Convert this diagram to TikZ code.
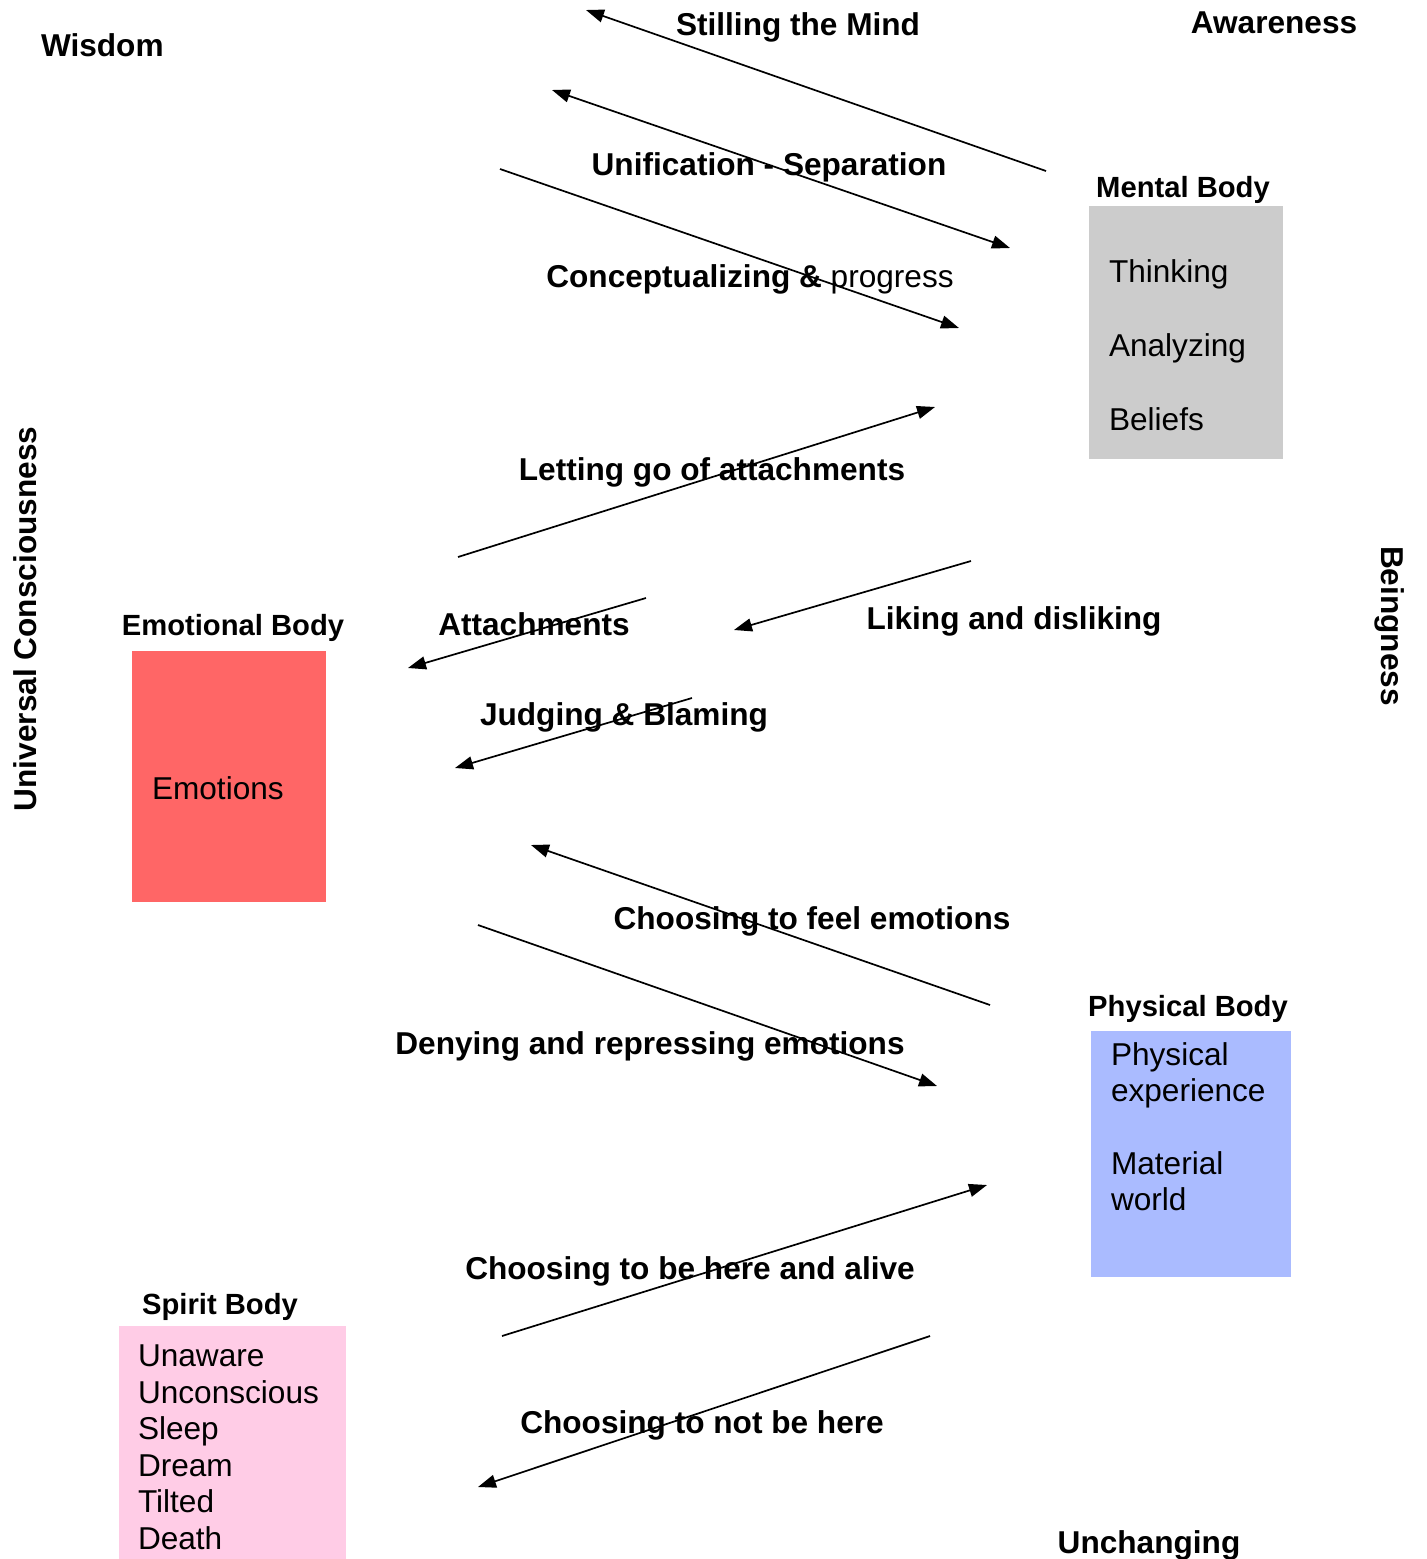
\documentclass[tikz,border=0pt]{standalone}
\usepackage{fontspec}
\setmainfont{Liberation Sans}
\usetikzlibrary{arrows.meta}

\definecolor{mentalgray}{HTML}{CCCCCC}
\definecolor{emotionred}{HTML}{FF6666}
\definecolor{physblue}{HTML}{AABBFF}
\definecolor{spiritpink}{HTML}{FFCCE6}

\begin{document}
\begin{tikzpicture}[
      x=0.5pt, y=-0.5pt,
      every node/.style={inner sep=0pt, outer sep=0pt},
      lbl/.style={font=\fontsize{15.8}{19}\selectfont\bfseries, anchor=base},
      title/.style={font=\fontsize{14.6}{17}\selectfont\bfseries, anchor=base},
      item/.style={font=\fontsize{15.8}{19}\selectfont, anchor=base west},
      body/.style={draw=none, anchor=north west},
      arrow/.style={-{Triangle[length=9pt,width=6.5pt]}, line width=0.85pt},
      twoway/.style={{Triangle[length=9pt,width=6.5pt]}-{Triangle[length=9pt,width=6.5pt]}, line width=0.85pt},
    ]
    \useasboundingbox (0,0) rectangle (1426,1559);

    % Corner and side words
    \node[lbl, anchor=base west] (wisdom) at (41,56) {Wisdom};
    \node[lbl] (aware) at (1274,33) {Awareness};
    \node[lbl] (unchanging) at (1149,1553) {Unchanging};
    \node[lbl, rotate=90] (univ) at (36,619) {Universal Consciousness};
    \node[lbl, rotate=-90] (being) at (1381,626) {Beingness};

    % Mental body
    \node[body, fill=mentalgray, minimum width=97pt, minimum height=126.5pt] (mental) at (1089,206) {};
    \node[title] (mentalT) at (1183,197) {Mental Body};
    \node[item] (think) at (1109,282) {Thinking};
    \node[item] (analyz) at (1109,356) {Analyzing};
    \node[item] (belief) at (1109,430) {Beliefs};

    % Emotional body
    \node[body, fill=emotionred, minimum width=97pt, minimum height=125.5pt] (emo) at (132,651) {};
    \node[title] (emoT) at (233,635) {Emotional Body};
    \node[item] (emotions) at (152,799) {Emotions};

    % Physical body
    \node[body, fill=physblue, minimum width=100pt, minimum height=123pt] (phys) at (1091,1031) {};
    \node[title] (physT) at (1188,1016) {Physical Body};
    \node[item] (physA) at (1111,1065) {Physical};
    \node[item] (physB) at (1111,1101) {experience};
    \node[item] (matA) at (1111,1174) {Material};
    \node[item] (matB) at (1111,1210) {world};

    % Spirit body
    \node[body, fill=spiritpink, minimum width=113.5pt, minimum height=116.5pt] (spirit) at (119,1326) {};
    \node[title] (spiritT) at (220,1314) {Spirit Body};
    \node[item] (unaware) at (138,1366) {Unaware};
    \node[item] (uncons) at (138,1403) {Unconscious};
    \node[item] (sleep) at (138,1439) {Sleep};
    \node[item] (dream) at (138,1476) {Dream};
    \node[item] (tilted) at (138,1512) {Tilted};
    \node[item] (death) at (138,1549) {Death};

    % Arrow ends
    \coordinate (stillA) at (1046,171);
    \coordinate (stillB) at (586,10);
    \coordinate (unifA) at (552,90);
    \coordinate (unifB) at (1010,248);
    \coordinate (concA) at (500,169);
    \coordinate (concB) at (959,328);
    \coordinate (letA) at (458,557);
    \coordinate (letB) at (935,407);
    \coordinate (attA) at (646,598);
    \coordinate (attB) at (408,668);
    \coordinate (likeA) at (971,561);
    \coordinate (likeB) at (734,630);
    \coordinate (judgeA) at (692,698);
    \coordinate (judgeB) at (455,768);
    \coordinate (feelA) at (990,1005);
    \coordinate (feelB) at (531,845);
    \coordinate (denyA) at (478,925);
    \coordinate (denyB) at (937,1086);
    \coordinate (aliveA) at (502,1336);
    \coordinate (aliveB) at (987,1185);
    \coordinate (notA) at (930,1336);
    \coordinate (notB) at (478,1487);

    % Arrows
    \draw[arrow] (stillA) -- (stillB);
    \draw[twoway] (unifA) -- (unifB);
    \draw[arrow] (concA) -- (concB);
    \draw[arrow] (letA) -- (letB);
    \draw[arrow] (attA) -- (attB);
    \draw[arrow] (likeA) -- (likeB);
    \draw[arrow] (judgeA) -- (judgeB);
    \draw[arrow] (feelA) -- (feelB);
    \draw[arrow] (denyA) -- (denyB);
    \draw[arrow] (aliveA) -- (aliveB);
    \draw[arrow] (notA) -- (notB);

    % Arrow labels
    \node[lbl] (stilling) at (798,35) {Stilling the Mind};
    \node[lbl] (unif) at (769,175) {Unification - Separation};
    \node[lbl, font=\fontsize{15.8}{19}\selectfont] (concept) at (750,287) {\textbf{Conceptualizing \&} progress};
    \node[lbl] (letgo) at (712,480) {Letting go of attachments};
    \node[lbl] (attach) at (534,635) {Attachments};
    \node[lbl] (liking) at (1014,629) {Liking and disliking};
    \node[lbl] (judging) at (624,725) {Judging \& Blaming};
    \node[lbl] (feel) at (812,929) {Choosing to feel emotions};
    \node[lbl] (deny) at (650,1054) {Denying and repressing emotions};
    \node[lbl] (alive) at (690,1279) {Choosing to be here and alive};
    \node[lbl] (notHere) at (702,1433) {Choosing to not be here};
  \end{tikzpicture}
\end{document}
